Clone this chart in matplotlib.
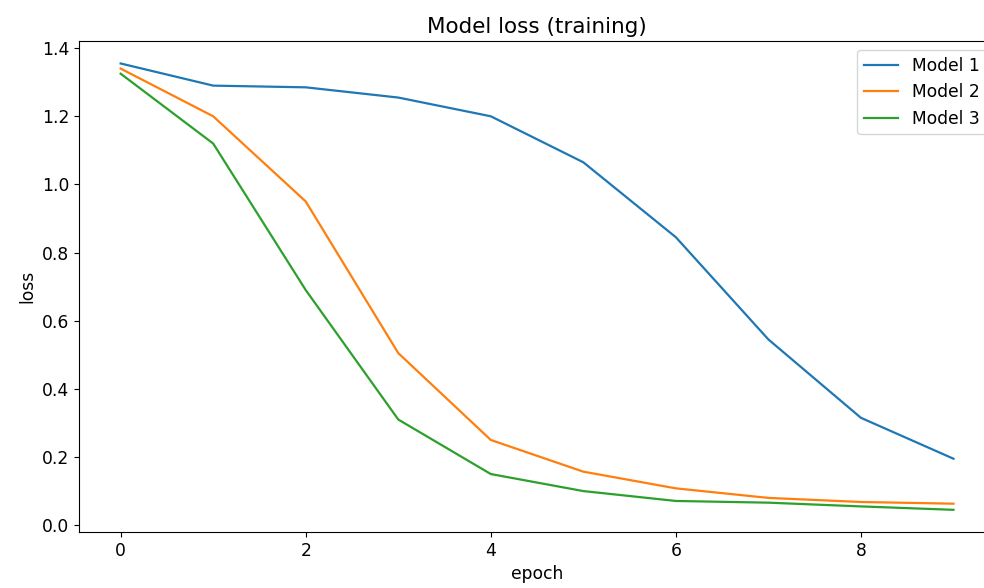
import matplotlib
matplotlib.use('Agg')
import matplotlib.pyplot as plt

epochs = list(range(10))
model1 = [1.355, 1.29, 1.285, 1.255, 1.20, 1.065, 0.845, 0.545, 0.315, 0.195]
model2 = [1.34, 1.20, 0.95, 0.505, 0.25, 0.157, 0.108, 0.08, 0.068, 0.063]
model3 = [1.325, 1.12, 0.69, 0.31, 0.15, 0.10, 0.071, 0.066, 0.055, 0.045]
labels = ['Model 1', 'Model 2', 'Model 3']

plt.rcParams['font.size'] = 12.3

fig = plt.figure(figsize=(9.84, 5.88), dpi=100)
# the source screenshot is cut off on the right, so the axes run past the edge
ax = fig.add_axes([0.0803, 0.095, 0.931, 0.835])

ax.plot(epochs, model1, color='#1f77b4', lw=1.6, label=labels[0])
ax.plot(epochs, model2, color='#ff7f0e', lw=1.6, label=labels[1])
ax.plot(epochs, model3, color='#2ca02c', lw=1.6, label=labels[2])

ax.set_title('Model loss (training)', fontsize=15.5)
ax.set_xlabel('epoch')
ax.set_ylabel('loss')
ax.legend(loc='upper right')

fig.savefig('out.png', dpi=100)
